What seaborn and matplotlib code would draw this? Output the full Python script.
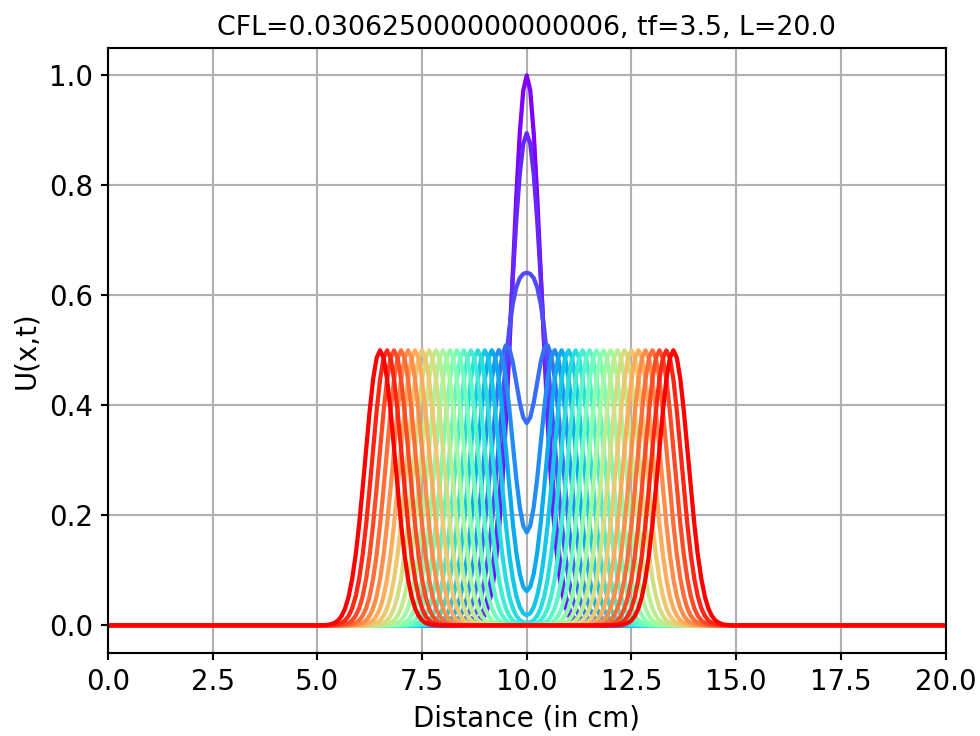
import numpy as np
import pandas as pd
import matplotlib
matplotlib.use("Agg")
import matplotlib.pyplot as plt
import seaborn as sns

# ---------- chart values ----------
L = 20.0
TF = 3.5
CFL_TEXT = "0.030625000000000006"
DX = 1 / 12                      # sample spacing of the grid
X_TICKS = [0.0, 2.5, 5.0, 7.5, 10.0, 12.5, 15.0, 17.5, 20.0]
Y_TICKS = [0.0, 0.2, 0.4, 0.6, 0.8, 1.0]

# half of the initial pulse at x = L/2, sampled every DX from the centre outwards
PULSE_HALF = [1.0, 0.9726, 0.8948, 0.7788, 0.6412, 0.4994, 0.3679, 0.2564,
              0.1690, 0.1054, 0.0622, 0.0347, 0.0183, 0.0091, 0.0043, 0.0019,
              0.0008]

# times of the plotted snapshots (0 .. tf)
TIMES = [0.0, 0.1667, 0.3333, 0.5, 0.6667, 0.8333, 1.0, 1.1667, 1.3333, 1.5,
         1.6667, 1.8333, 2.0, 2.1667, 2.3333, 2.5, 2.6667, 2.8333, 3.0,
         3.1667, 3.3333, 3.5]
# ----------------------------------------------------------

x = np.arange(int(round(L / DX)) + 1) * DX
centre = int(round(L / 2 / DX))
pulse = np.array(PULSE_HALF[::-1] + PULSE_HALF[1:])
half = len(PULSE_HALF) - 1


def place(u, c, amp):
    # add the sampled pulse, centred at grid index c
    u[c - half:c + half + 1] += amp * pulse


rows = []
for t in TIMES:
    shift = int(round(t / DX))
    u = np.zeros_like(x)
    place(u, centre - shift, 0.5)
    place(u, centre + shift, 0.5)
    rows.append(pd.DataFrame({"x": x, "u": u, "t": t}))
df = pd.concat(rows, ignore_index=True)

plt.rcParams.update({"font.size": 13, "axes.linewidth": 1.0,
                     "grid.linewidth": 1.0, "xtick.major.width": 1.0,
                     "ytick.major.width": 1.0})

fig, ax = plt.subplots(figsize=(6.4, 736 / 153.125), dpi=153.125)
fig.subplots_adjust(left=0.110, right=0.965, top=0.935, bottom=0.113)

sns.lineplot(data=df, x="x", y="u", hue="t", palette="rainbow",
             estimator=None, sort=False, legend=False, linewidth=2.0, ax=ax)

ax.set_xlim(0, L)
ax.set_ylim(-0.05, 1.05)
ax.set_xticks(X_TICKS)
ax.set_yticks(Y_TICKS)
ax.tick_params(labelsize=13)
ax.grid(True)
ax.set_xlabel("Distance (in cm)", fontsize=13)
ax.set_ylabel("U(x,t)", fontsize=13)
ax.set_title(f"CFL={CFL_TEXT}, tf={TF}, L={L}", fontsize=12.6)

fig.savefig("out.png", dpi=153.125)
